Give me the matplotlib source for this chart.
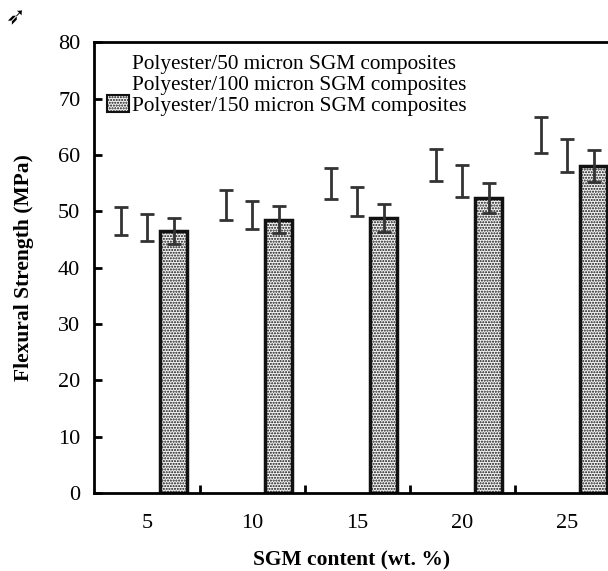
import numpy as np
import matplotlib
matplotlib.use("Agg")
import matplotlib.pyplot as plt
from matplotlib.patches import Patch

# ── data ─────────────────────────────────────────────────────────────────────
sgm_content = [5, 10, 15, 20, 25]
labels = ["Polyester/50 micron SGM composites",
          "Polyester/100 micron SGM composites",
          "Polyester/150 micron SGM composites"]
mean_50  = [48.3, 51.1, 54.9, 58.2, 63.6]
err_50   = [2.5, 2.6, 2.75, 2.85, 3.2]
mean_100 = [47.1, 49.3, 51.7, 55.4, 59.9]
err_100  = [2.4, 2.5, 2.6, 2.8, 2.9]
mean_150 = [46.5, 48.5, 48.8, 52.3, 58.0]
err_150  = [2.3, 2.4, 2.45, 2.65, 2.8]

plt.rcParams['font.family'] = ['Liberation Serif', 'DejaVu Serif']
plt.rcParams['hatch.linewidth'] = 1.0

fig = plt.figure(figsize=(6.08, 5.71), dpi=100)
ax = fig.add_axes([0.155, 0.1366, 0.845, 0.7894])

x = np.array(sgm_content, dtype=float)
w = 1.26
ekw = dict(ecolor='#333333', elinewidth=2, capsize=4.7, capthick=2)

ax.bar(x - w, mean_50, w, yerr=err_50, color='white', edgecolor='none',
       error_kw=ekw, label=labels[0])
ax.bar(x, mean_100, w, yerr=err_100, color='white', edgecolor='none',
       error_kw=ekw, label=labels[1])
ax.bar(x + w, mean_150, w, yerr=err_150, color='#f4f4f4', edgecolor='#111111',
       linewidth=2.5, hatch='......', error_kw=ekw, label=labels[2])

ax.set_xlim(2.48, 26.95)
ax.set_ylim(0, 80)
ax.set_yticks(range(0, 81, 10))
ax.set_xticks(sgm_content)
ax.set_xticks([7.5, 12.5, 17.5, 22.5], minor=True)
ax.tick_params(axis='x', which='major', length=0, pad=15, labelsize=16)
ax.tick_params(axis='x', which='minor', direction='in', length=6, width=2)
ax.tick_params(axis='y', direction='in', length=6, width=2, pad=10, labelsize=16)

for side in ['left', 'bottom', 'top']:
    ax.spines[side].set_linewidth(2)
ax.spines['right'].set_visible(False)

ax.set_xlabel("SGM content (wt. %)", fontsize=15.5, fontweight='bold', labelpad=13)
ax.set_ylabel("Flexural Strength (MPa)", fontsize=15.5, fontweight='bold', labelpad=17)

handles = [Patch(facecolor='white', edgecolor='none'),
           Patch(facecolor='white', edgecolor='none'),
           Patch(facecolor='#f4f4f4', edgecolor='#111111', linewidth=1.5, hatch='......')]
ax.legend(handles, labels, loc='upper left', frameon=False, fontsize=15.3,
          handlelength=1.05, handleheight=0.9, handletextpad=0.15,
          labelspacing=0.0, borderaxespad=0.0, bbox_to_anchor=(0.008, 0.996))

fig.text(0.008, 0.99, "➶", fontsize=17, va='top', ha='left',
         family=['DejaVu Sans'])

fig.savefig("out.png", dpi=100)
